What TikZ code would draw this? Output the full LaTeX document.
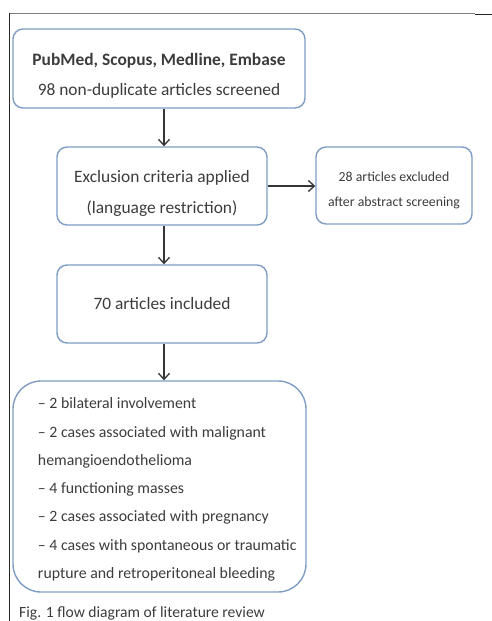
\documentclass[tikz,border=0pt]{standalone}
\usepackage{fontspec}
\setmainfont{Carlito}
\usetikzlibrary{arrows.meta}
\definecolor{boxline}{HTML}{7F9CC4}
\definecolor{ink}{HTML}{3C3C3C}
% lines of a box, set a little below the middle
\newcommand{\boxtext}[2]{\raisebox{-#1}[\height][\depth]{\begin{tabular}{@{}c@{}}#2\end{tabular}}}
\begin{document}
\begin{tikzpicture}[x=1pt, y=-1pt,
    box/.style={draw=boxline, line width=1.4pt, rounded corners=10pt,
                text=ink, font=\fontsize{17.4}{31}\selectfont,
                inner sep=0pt},
    arr/.style={draw=ink!90!black, line width=1.4pt,
                -{Straight Barb[length=6pt, width=11pt, line width=1.3pt]}}]
    \useasboundingbox (0,0) rectangle (492,621);
    % frame of the page
    \draw[gray, line width=0.8pt] (9,13) -- (475,13);
    \draw[black!85, line width=1pt] (9,13) -- (9,621);
    \draw[black!85, line width=1.2pt] (475,14.5) -- (492,14.5);
    % boxes
    \node[box, minimum width=292pt, minimum height=79pt,
          font=\fontsize{17.4}{30}\selectfont] (search) at (159,68.5)
        {\boxtext{5.5pt}{\textbf{PubMed, Scopus, Medline, Embase}\\98 non-duplicate articles screened}};
    \node[box, minimum width=210pt, minimum height=78pt] (exclusion) at (162,186)
        {\boxtext{5.5pt}{Exclusion criteria applied\\(language restriction)}};
    \node[box, minimum width=156pt, minimum height=77pt,
          font=\fontsize{13.8}{25}\selectfont] (excluded) at (394,185.5)
        {\boxtext{3.8pt}{28 articles excluded\\after abstract screening}};
    \node[box, minimum width=210pt, minimum height=78pt] (included) at (162,304)
        {70 articles included};
    \node[box, rounded corners=28pt, minimum width=293pt, minimum height=211pt,
          font=\fontsize{15.8}{28.3}\selectfont] (cases) at (159.5,486.5)
        {\raisebox{-3pt}[\height][\depth]{\parbox{280pt}{\raggedright\leftskip=18.5pt
        -- 2 bilateral involvement\\
        -- 2 cases associated with malignant\\
        hemangioendothelioma\\
        -- 4 functioning masses\\
        -- 2 cases associated with pregnancy\\
        -- 4 cases with spontaneous or traumatic\\
        rupture and retroperitoneal bleeding}}};
    % connectors
    \draw[arr] ([xshift=5pt]search.south) -- ([xshift=2pt]exclusion.north);
    \draw[arr] (exclusion.east) -- (exclusion.east -| excluded.west);
    \draw[arr] ([xshift=2pt]exclusion.south) -- ([xshift=2pt]included.north);
    \draw[arr] ([xshift=2pt]included.south) -- ([xshift=4.5pt]cases.north);
    % caption
    \node[anchor=base west, text=ink, font=\fontsize{15.6}{18}\selectfont, inner sep=0pt]
        (caption) at (19,617.5) {Fig. 1 flow diagram of literature review};
\end{tikzpicture}
\end{document}
